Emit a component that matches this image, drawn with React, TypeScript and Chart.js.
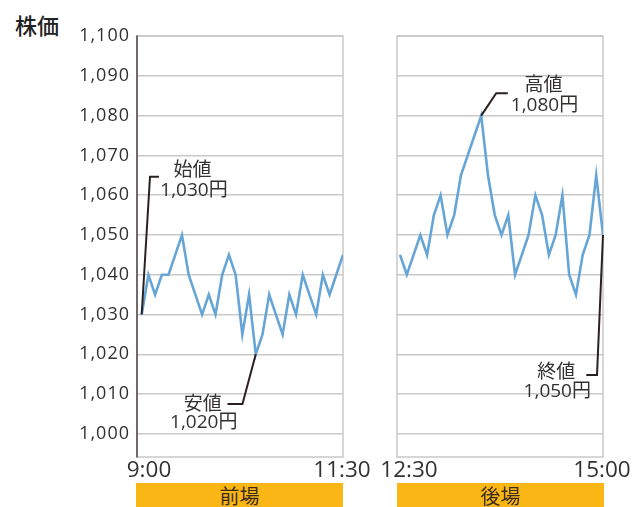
import React, { useEffect, useRef } from "react";
import { Chart, registerables } from "chart.js";

Chart.register(...registerables);

// ---- data ----
const yAxisTitle = "株価";
const yTickValues = [1000, 1010, 1020, 1030, 1040, 1050, 1060, 1070, 1080, 1090, 1100];
const amPrices = [
  1030, 1040, 1035, 1040, 1040, 1045, 1050, 1040, 1035, 1030, 1035, 1030, 1040, 1045, 1040, 1025,
  1035, 1020, 1025, 1035, 1030, 1025, 1035, 1030, 1040, 1035, 1030, 1040, 1035, 1040, 1045,
];
const pmPrices = [
  1045, 1040, 1045, 1050, 1045, 1055, 1060, 1050, 1055, 1065, 1070, 1075, 1080, 1065, 1055, 1050,
  1055, 1040, 1045, 1050, 1060, 1055, 1045, 1050, 1060, 1040, 1035, 1045, 1050, 1065, 1050,
];
const amTimeLabels = ["9:00", "11:30"];
const pmTimeLabels = ["12:30", "15:00"];
const sessionNames = ["前場", "後場"];
const amNoteIndex = [0, 17];
const amNoteNames = ["始値", "安値"];
const pmNoteIndex = [12, 30];
const pmNoteNames = ["高値", "終値"];

// ---- styles / geometry ----
const LINE_COLOR = "#66a5d6";
const GRID_COLOR = "#c9c9c9";
const TEXT_COLOR = "#333030";
const LEADER_COLOR = "#2a2220";
const Y_MIN = 994.2;
const Y_MAX = 1100;

// leader geometry per note: elbow offset from point, hook length, text offsets from elbow
type NoteStyle = { ex: number; ey: number; hook: number; t1: [number, number]; t2: [number, number] };
const amNoteStyles: NoteStyle[] = [
  { ex: 8.3, ey: -137.7, hook: 9, t1: [42.5, -8], t2: [44, 14] },
  { ex: -13.3, ey: 49.7, hook: -15, t1: [-39.7, -1], t2: [-38.7, 19] },
];
const pmNoteStyles: NoteStyle[] = [
  { ex: 15, ey: -22.3, hook: 11.6, t1: [47.3, -9.7], t2: [48.3, 12.3] },
  { ex: -6, ey: 140, hook: -10.7, t1: [-40.7, -4.3], t2: [-39.7, 17] },
];

type Panel = {
  prices: number[];
  times: string[];
  noteIndex: number[];
  noteNames: string[];
  noteStyles: NoteStyle[];
  showY: boolean;
  axisWidth: number;
  canvasWidth: number;
  padRight: number;
  xMin: number;
};

const CANVAS_H = 507;
const PAD_TOP = 36;
const PAD_BOTTOM = 50;

function buildPanel(canvas: HTMLCanvasElement, p: Panel) {
  const fmt = (v: number) => v.toLocaleString("en-US");
  const panelPlugin = {
    id: "panelDeco",
    beforeDraw(chart: any) {
      chart.ctx.letterSpacing = "1px";
    },
    beforeDatasetsDraw(chart: any) {
      const ctx = chart.ctx;
      ctx.letterSpacing = "0px";
      const a = chart.chartArea;
      ctx.save();
      ctx.strokeStyle = GRID_COLOR;
      ctx.lineWidth = 1.5;
      ctx.strokeRect(a.left, a.top, a.right - a.left, a.bottom - a.top);
      if (p.showY) {
        ctx.strokeStyle = "#5a5050";
        ctx.lineWidth = 1.6;
        ctx.beginPath();
        ctx.moveTo(a.left, a.top - 0.5);
        ctx.lineTo(a.left, a.bottom + 0.5);
        ctx.stroke();
      }
      ctx.restore();
    },
    afterDatasetsDraw(chart: any) {
      const ctx = chart.ctx;
      const meta = chart.getDatasetMeta(0);
      ctx.save();
      p.noteIndex.forEach((idx, k) => {
        const pt = meta.data[idx];
        const s = p.noteStyles[k];
        const ex = pt.x + s.ex;
        const ey = pt.y + s.ey;
        ctx.strokeStyle = LEADER_COLOR;
        ctx.lineWidth = 2;
        ctx.lineJoin = "miter";
        ctx.beginPath();
        ctx.moveTo(pt.x, pt.y);
        ctx.lineTo(ex, ey);
        ctx.lineTo(ex + s.hook, ey);
        ctx.stroke();
        ctx.fillStyle = TEXT_COLOR;
        ctx.textAlign = "center";
        ctx.textBaseline = "middle";
        ctx.font = '19px "Noto Sans CJK JP", sans-serif';
        ctx.fillText(p.noteNames[k], ex + s.t1[0], ey + s.t1[1]);
        ctx.font = '19px "Open Sans", "Noto Sans CJK JP", sans-serif';
        ctx.fillText(fmt(p.prices[idx]) + "円", ex + s.t2[0], ey + s.t2[1]);
      });
      ctx.restore();
    },
    afterDraw(chart: any) {
      const ctx = chart.ctx;
      const a = chart.chartArea;
      ctx.save();
      ctx.fillStyle = TEXT_COLOR;
      ctx.font = '22.5px "Open Sans", sans-serif';
      ctx.textBaseline = "middle";
      ctx.textAlign = "center";
      const ty = a.bottom + 14;
      ctx.fillText(p.times[0], a.left + 12, ty);
      ctx.fillText(p.times[1], a.right - 1, ty);
      ctx.restore();
    },
  };

  return new Chart(canvas, {
    type: "line",
    data: {
      datasets: [
        {
          data: p.prices.map((y, i) => ({ x: i, y })),
          borderColor: LINE_COLOR,
          borderWidth: 2.6,
          pointRadius: 0,
          tension: 0,
          fill: false,
        },
      ],
    },
    options: {
      animation: false,
      responsive: false,
      maintainAspectRatio: false,
      events: [],
      layout: { padding: { top: PAD_TOP, bottom: PAD_BOTTOM, left: 0, right: p.padRight } },
      plugins: { legend: { display: false }, tooltip: { enabled: false }, title: { display: false } },
      scales: {
        x: { type: "linear", display: false, min: p.xMin, max: p.prices.length - 1 },
        y: {
          type: "linear",
          min: Y_MIN,
          max: Y_MAX,
          afterFit: (scale: any) => {
            scale.width = p.axisWidth;
          },
          afterBuildTicks: (scale: any) => {
            scale.ticks = yTickValues.map((v) => ({ value: v }));
          },
          border: { display: false },
          grid: { color: GRID_COLOR, lineWidth: 1.5, drawTicks: false },
          ticks: {
            display: p.showY,
            autoSkip: false,
            padding: 7,
            color: TEXT_COLOR,
            font: { family: '"Open Sans", sans-serif', size: 18 },
            callback: (v: any) => fmt(Number(v)),
          },
        },
      },
    },
    plugins: [panelPlugin],
  } as any);
}

const AM_W = 375;
const PM_W = 261;

export default function App() {
  const amRef = useRef<HTMLCanvasElement>(null);
  const pmRef = useRef<HTMLCanvasElement>(null);

  useEffect(() => {
    const charts = [
      buildPanel(amRef.current!, {
        prices: amPrices,
        times: amTimeLabels,
        noteIndex: amNoteIndex,
        noteNames: amNoteNames,
        noteStyles: amNoteStyles,
        showY: true,
        axisWidth: 137,
        canvasWidth: AM_W,
        padRight: 32,
        xMin: -0.7,
      }),
      buildPanel(pmRef.current!, {
        prices: pmPrices,
        times: pmTimeLabels,
        noteIndex: pmNoteIndex,
        noteNames: pmNoteNames,
        noteStyles: pmNoteStyles,
        showY: false,
        axisWidth: 22,
        canvasWidth: PM_W,
        padRight: 33,
        xMin: -0.45,
      }),
    ];
    return () => charts.forEach((c) => c.destroy());
  }, []);

  const barStyle = (left: number): React.CSSProperties => ({
    position: "absolute",
    left,
    top: 483,
    width: 207,
    height: 24,
    background: "#fab614",
    color: "#3a2c1c",
    fontFamily: '"Noto Sans CJK JP", sans-serif',
    fontSize: 20,
    lineHeight: "26px",
    textAlign: "center",
    overflow: "hidden",
  });

  return (
    <div
      style={{
        position: "absolute",
        left: 0,
        top: 0,
        width: 636,
        height: 507,
        background: "#fff",
        overflow: "hidden",
      }}
    >
      <div
        style={{
          position: "absolute",
          left: 15,
          top: 13,
          fontFamily: '"Noto Sans CJK JP", sans-serif',
          fontSize: 22,
          fontWeight: 500,
          lineHeight: "22px",
          color: "#222",
          whiteSpace: "nowrap",
        }}
      >
        {yAxisTitle}
      </div>
      <canvas
        ref={amRef}
        width={AM_W}
        height={CANVAS_H}
        style={{ position: "absolute", left: 0, top: 0, width: AM_W, height: CANVAS_H }}
      />
      <canvas
        ref={pmRef}
        width={PM_W}
        height={CANVAS_H}
        style={{ position: "absolute", left: AM_W, top: 0, width: PM_W, height: CANVAS_H }}
      />
      <div style={barStyle(136)}>{sessionNames[0]}</div>
      <div style={barStyle(397)}>{sessionNames[1]}</div>
    </div>
  );
}
